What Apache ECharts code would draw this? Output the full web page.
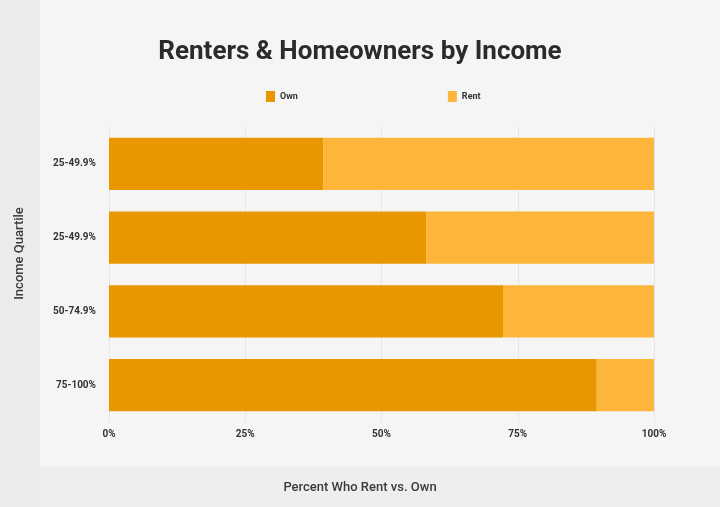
<!DOCTYPE html>
<html><head><meta charset="utf-8">
<script src="https://cdn.jsdelivr.net/npm/echarts@6/dist/echarts.min.js"></script>
<style>html,body{margin:0;padding:0;background:#f5f5f6}#c{width:720px;height:507px}</style>
</head><body><div id="c"></div>
<script>
const categories = ['25-49.9%', '25-49.9%', '50-74.9%', '75-100%'];
const ownValues = [39.3, 58.2, 72.3, 89.5];
const rentValues = [60.7, 41.8, 27.7, 10.5];
const xTicks = [0, 25, 50, 75, 100];

const chart = echarts.init(document.getElementById('c'), null, {renderer: 'canvas'});
chart.setOption({
  backgroundColor: '#f5f5f6',
  animation: false,
  graphic: [
    {type: 'rect', shape: {x: 0, y: 0, width: 40, height: 507}, style: {fill: '#ebebeb'}, z: -10},
    {type: 'rect', shape: {x: 40, y: 466, width: 680, height: 41}, style: {fill: '#eeeeee'}, z: -10},
    {type: 'text', left: 13, top: 'center', rotation: Math.PI / 2,
      style: {text: 'Income Quartile', font: '500 13px Roboto', fill: '#3a3a3a'}},
    {type: 'text', left: 'center', top: 481,
      style: {text: 'Percent Who Rent vs. Own', font: '500 13px Roboto', fill: '#3a3a3a'}}
  ],
  title: {
    text: 'Renters & Homeowners by Income',
    left: 'center', top: 34,
    textStyle: {fontFamily: 'Roboto', fontWeight: 'bold', fontSize: 26, color: '#2b2b2b'}
  },
  legend: {
    top: 86, left: 261,
    itemWidth: 9, itemHeight: 11, itemGap: 150,
    icon: 'rect',
    textStyle: {fontFamily: 'Roboto', fontWeight: 'bold', fontSize: 9, color: '#333'},
    data: ['Own', 'Rent']
  },
  grid: {left: 109, right: 66, top: 127, bottom: 85},
  xAxis: {
    type: 'value', min: 0, max: 100, interval: 25,
    axisLine: {show: false}, axisTick: {show: false},
    splitLine: {show: true, lineStyle: {color: '#e6e6e8', width: 1}},
    axisLabel: {formatter: v => xTicks.includes(v) ? v + '%' : '', fontFamily: 'Roboto', fontWeight: 'bold', fontSize: 10, color: '#333', margin: 7}
  },
  yAxis: {
    type: 'category', data: categories, inverse: true,
    axisLine: {show: false}, axisTick: {show: false},
    axisLabel: {fontFamily: 'Roboto', fontWeight: 'bold', fontSize: 10, color: '#333', margin: 13}
  },
  series: [
    {name: 'Own', type: 'bar', stack: 'a', data: ownValues, barCategoryGap: '29%', itemStyle: {color: '#E99700'}},
    {name: 'Rent', type: 'bar', stack: 'a', data: rentValues, barCategoryGap: '29%', itemStyle: {color: '#FDB63A'}}
  ]
});
</script></body></html>
